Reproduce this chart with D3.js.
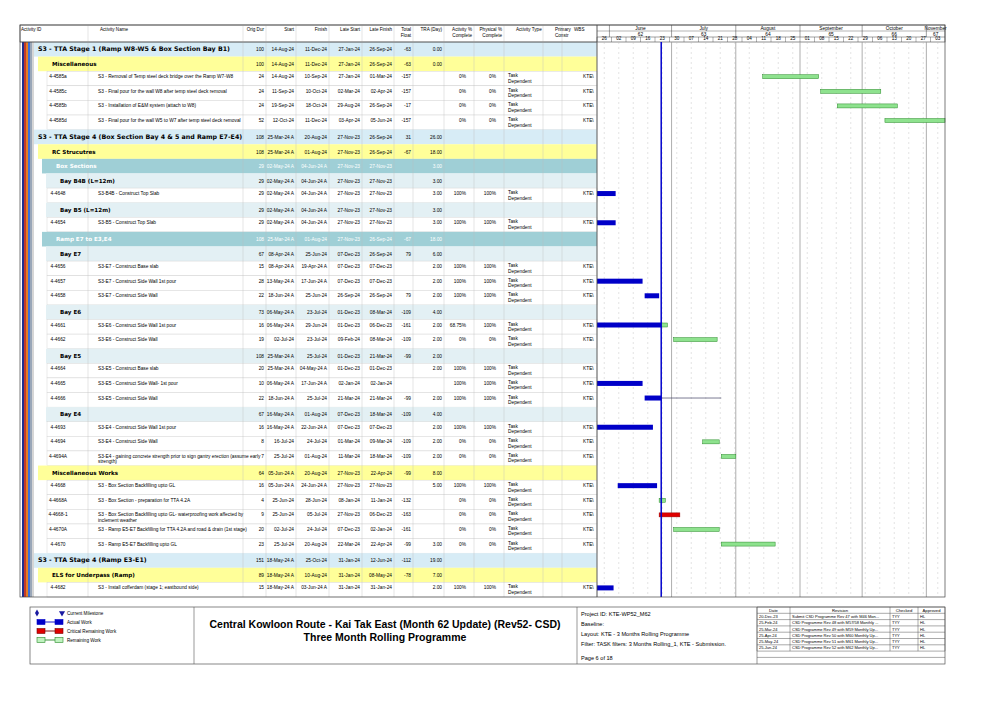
<!DOCTYPE html>
<html><head><meta charset="utf-8">
<script src="https://cdn.jsdelivr.net/npm/d3@7"></script>
<style>body{margin:0;background:#fff}svg{font-family:"Liberation Sans",Arial,sans-serif}</style>
</head><body><svg id="c" width="1001" height="708"></svg>
<script>
// ---------- DATA ----------
const ids=["","","4-4585a","4-4585c","4-4585b","4-4585d","","","","","4-4648","","4-4654","","","4-4656","4-4657","4-4658","","4-4661","4-4662","","4-4664","4-4665","4-4666","","4-4693","4-4694","4-4694A","","4-4668","4-4668A","4-4668-1","4-4670A","4-4670","","","4-4682"];
const names=["S3 - TTA Stage 1 (Ramp W8-W5 & Box Section Bay B1)","Miscellaneous","S3 - Removal of Temp steel deck bridge over the Ramp W7-W8","S3 - Final pour for the wall  W8 after temp steel deck removal","S3 - Installation of E&M system (attach to W8)","S3 - Final pour for the wall W5 to W7 after temp steel deck removal","S3 - TTA Stage 4 (Box Section Bay 4 & 5 and Ramp E7-E4)","RC Strucutres","Box Sections","Bay B4B (L=12m)","S3-B4B - Construct Top Slab","Bay B5 (L=12m)","S3-B5 - Construct Top Slab","Ramp E7 to E3,E4","Bay E7","S3-E7 - Construct Base slab","S3-E7 - Construct Side Wall 1st pour","S3-E7 - Construct Side Wall","Bay E6","S3-E6 - Construct Side Wall 1st pour","S3-E6 - Construct Side Wall","Bay E5","S3-E5 - Construct Base slab","S3-E5 - Construct Side Wall- 1st pour","S3-E5 - Construct Side Wall","Bay E4","S3-E4 - Construct Side Wall 1st pour","S3-E4 - Construct Side Wall","S3-E4 - gaining concrete strength prior to sign gantry erection (assume early|strength)","Miscellaneous Works","S3 - Box Section Backfilling upto GL","S3 - Box Section - preparation for TTA 4.2A","S3 - Box Section Backfilling upto GL- waterproofing work affected by|inclement weather","S3 - Ramp E5-E7  Backfilling for TTA 4.2A and road & drain (1st stage)","S3 - Ramp E5-E7 Backfilling upto GL","S3 - TTA Stage 4 (Ramp E3-E1)","ELS for Underpass (Ramp)","S3 - Install cofferdam (stage 1; eastbound side)"];
// level: 1 = stage, 2 = yellow group, 3 = teal group, 4 = bay, 0 = task
const levels=[1,2,0,0,0,0,1,2,3,4,0,4,0,3,4,0,0,0,4,0,0,4,0,0,0,4,0,0,0,2,0,0,0,0,0,1,2,0];
const origDur=[100,100,24,24,24,52,108,108,29,29,29,29,29,108,67,15,28,22,73,16,19,108,20,10,22,67,16,8,7,64,16,4,9,20,23,151,89,15];
const starts=["14-Aug-24","14-Aug-24","14-Aug-24","11-Sep-24","19-Sep-24","12-Oct-24","25-Mar-24 A","25-Mar-24 A","02-May-24 A","02-May-24 A","02-May-24 A","02-May-24 A","02-May-24 A","25-Mar-24 A","08-Apr-24 A","08-Apr-24 A","13-May-24 A","18-Jun-24 A","06-May-24 A","06-May-24 A","02-Jul-24","25-Mar-24 A","25-Mar-24 A","06-May-24 A","18-Jun-24 A","16-May-24 A","16-May-24 A","16-Jul-24","25-Jul-24","05-Jun-24 A","05-Jun-24 A","25-Jun-24","25-Jun-24","02-Jul-24","25-Jul-24","18-May-24 A","18-May-24 A","18-May-24 A"];
const finishes=["11-Dec-24","11-Dec-24","10-Sep-24","10-Oct-24","18-Oct-24","11-Dec-24","20-Aug-24","01-Aug-24","04-Jun-24 A","04-Jun-24 A","04-Jun-24 A","04-Jun-24 A","04-Jun-24 A","01-Aug-24","25-Jun-24","19-Apr-24 A","17-Jun-24 A","25-Jun-24","23-Jul-24","29-Jun-24","23-Jul-24","25-Jul-24","04-May-24 A","17-Jun-24 A","25-Jul-24","01-Aug-24","22-Jun-24 A","24-Jul-24","01-Aug-24","20-Aug-24","24-Jun-24 A","28-Jun-24","05-Jul-24","24-Jul-24","20-Aug-24","25-Oct-24","10-Aug-24","03-Jun-24 A"];
const lateStarts=["27-Jan-24","27-Jan-24","27-Jan-24","02-Mar-24","29-Aug-24","03-Apr-24","27-Nov-23","27-Nov-23","27-Nov-23","27-Nov-23","27-Nov-23","27-Nov-23","27-Nov-23","27-Nov-23","07-Dec-23","07-Dec-23","07-Dec-23","26-Sep-24","01-Dec-23","01-Dec-23","09-Feb-24","01-Dec-23","01-Dec-23","02-Jan-24","21-Mar-24","07-Dec-23","07-Dec-23","01-Mar-24","11-Mar-24","27-Nov-23","27-Nov-23","08-Jan-24","27-Nov-23","07-Dec-23","22-Mar-24","31-Jan-24","31-Jan-24","31-Jan-24"];
const lateFinishes=["26-Sep-24","26-Sep-24","01-Mar-24","02-Apr-24","26-Sep-24","05-Jun-24","26-Sep-24","26-Sep-24","27-Nov-23","27-Nov-23","27-Nov-23","27-Nov-23","27-Nov-23","26-Sep-24","26-Sep-24","07-Dec-23","07-Dec-23","26-Sep-24","08-Mar-24","06-Dec-23","08-Mar-24","21-Mar-24","01-Dec-23","02-Jan-24","21-Mar-24","18-Mar-24","07-Dec-23","09-Mar-24","18-Mar-24","22-Apr-24","27-Nov-23","11-Jan-24","06-Dec-23","02-Jan-24","22-Apr-24","12-Jun-24","08-May-24","31-Jan-24"];
const totalFloat=["-63","-63","-157","-157","-17","-157","31","-67","","","","","","-67","79","","","79","-109","-161","-109","-99","","","-99","-109","","-109","-109","-99","","-132","-163","-161","-99","-112","-78",""];
const tra=["0.00","0.00","","","","","26.00","18.00","3.00","3.00","3.00","3.00","3.00","18.00","6.00","2.00","2.00","2.00","4.00","2.00","2.00","2.00","2.00","","2.00","4.00","2.00","2.00","2.00","8.00","5.00","","","","3.00","19.00","7.00","2.00"];
const actPct=["","","0%","0%","0%","0%","","","","","100%","","100%","","","100%","100%","100%","","68.75%","0%","","100%","100%","100%","","100%","0%","0%","","100%","0%","0%","0%","0%","","","100%"];
const physPct=["","","0%","0%","0%","0%","","","","","100%","","100%","","","100%","100%","100%","","100%","0%","","100%","100%","100%","","100%","0%","0%","","100%","0%","0%","0%","0%","","","100%"];
const critical=["4-4668-1"];
const dataDate="26-Jun-24";
const monthLabels=["June","July","August","September","October","November"];
const monthNums=["62","63","64","65","66","67"];
const revDates=["20-Dec-23","25-Feb-24","25-Mar-24","25-Apr-24","25-May-24","25-Jun-24"];
const revTexts=["Submit CSD Programme Rev 47 with M46 Mon...","CSD Programme Rev 48 with M57/58 Monthly ...","CSD Programme Rev 49 with M59 Monthly Up...","CSD Programme Rev 50 with M60 Monthly Up...","CSD Programme Rev 51 with M61 Monthly Up...","CSD Programme Rev 52 with M62 Monthly Up..."];
const legendItems=["Current Milestone","Actual Work","Critical Remaining Work","Remaining Work"];

// ---------- DRAW ----------
const svg=d3.select("#c");
const parse=s=>d3.timeParse("%d-%b-%y")(s.replace(" A",""));
const L=20,R=945,T0=25,HB=42,TB=597,G0=597;
const x=d3.scaleTime().domain([new Date(2024,4,26),new Date(2024,10,10)]).range([G0,R]);
const y=d3.scaleBand().domain(d3.range(ids.length)).range([HB,TB]);
const rh=y.bandwidth();
const cols=[[20,88,"Activity ID","start"],[88,243,"Activity Name","start"],[243,266,"Orig Dur","end"],[266,296,"Start","end"],[296,329,"Finish","end"],[329,362,"Late Start","end"],[362,394,"Late Finish","end"],[394,413,"Total Float","end"],[413,444,"TRA (Day)","end"],[444,474,"Activity % Complete","end"],[474,504,"Physical % Complete","end"],[504,543,"Activity Type","start"],[543,562,"Primary Constr","start"],[562,597,"WBS","start"]];
const fills={1:"#d7ecf6",2:"#ffff99",3:"#9fcfd6",4:"#e3f0f4",0:"#ffffff"};
const g=svg.append("g");
ids.forEach((id,i)=>{
  const lv=levels[i],yy=y(i);
  const ind=lv==1?14:lv==2?18:lv==3?22:lv==4?26:27;
  g.append("rect").attr("x",L+ind).attr("y",yy).attr("width",G0-L-ind).attr("height",rh).attr("fill",fills[lv]).attr("stroke",lv?"none":"#ccc").attr("stroke-width",0.4);
});
["#1f2f8f","#c0392b","#e67e22","#3a6fd8","#9aa7b8","#d6d6d6"].forEach((c,k)=>{
  g.append("rect").attr("x",L+2+k*2).attr("y",HB).attr("width",2).attr("height",TB-HB).attr("fill",c);
});
g.append("rect").attr("x",L).attr("y",T0).attr("width",R-L).attr("height",HB-T0).attr("fill","#fff").attr("stroke","#444").attr("stroke-width",0.6);
cols.forEach(([a,b,t,anc])=>{
  g.append("line").attr("x1",b).attr("x2",b).attr("y1",T0).attr("y2",TB).attr("stroke","#bbb").attr("stroke-width",0.4);
  const parts=t.split(" ");const two=(t.includes("%")||t=="Total Float"||t=="Primary Constr");
  const lines=two?[parts.slice(0,parts.length-1).join(" "),parts[parts.length-1]]:[t];
  lines.forEach((ln,k)=>g.append("text").attr("x",anc=="end"?b-2:(t=="Activity ID"?a+1:a+12)).attr("y",T0+6+k*6).attr("font-size",4.6).attr("text-anchor",anc=="end"?"end":"start").text(ln));
});
ids.forEach((id,i)=>{
  const lv=levels[i],yy=y(i);
  const col=lv==3?"#fff":"#000";
  if(lv==0){
    g.append("text").attr("x",58).attr("y",yy+7).attr("font-size",4.8).attr("text-anchor","middle").text(id);
    names[i].split("|").forEach((ln,k)=>g.append("text").attr("x",98).attr("y",yy+7+k*5.5).attr("font-size",4.8).text(ln));
    g.append("text").attr("x",508).attr("y",yy+6).attr("font-size",4.8).text("Task");
    g.append("text").attr("x",508).attr("y",yy+11.5).attr("font-size",4.8).text("Dependent");
    g.append("text").attr("x",583).attr("y",yy+7).attr("font-size",4.8).text("KTE\\");
  } else {
    const nx=lv==1?38:lv==2?52:lv==3?56:60;
    g.append("text").attr("x",nx).attr("y",yy+rh/2+2).attr("font-size",lv==1?6.3:5.6).attr("font-weight","bold").attr("font-family","DejaVu Sans").attr("fill",col).text(names[i]);
  }
  [[2,origDur],[3,starts],[4,finishes],[5,lateStarts],[6,lateFinishes],[7,totalFloat],[8,tra],[9,actPct],[10,physPct]].forEach(([c,arr])=>{
    const v=String(arr[i]);if(!v)return;
    g.append("text").attr("x",cols[c][1]-(c>=9?8:2)).attr("y",yy+(lv?rh/2+2:7)).attr("font-size",4.8).attr("text-anchor","end").attr("fill",col).text(v);
  });
});
const months=d3.timeMonth.range(new Date(2024,5,1),new Date(2024,11,1));
months.forEach((m,k)=>{
  const a=Math.max(G0,x(m)),b=Math.min(R,x(d3.timeMonth.offset(m,1)));
  g.append("line").attr("x1",a).attr("x2",a).attr("y1",T0).attr("y2",T0+12).attr("stroke","#444").attr("stroke-width",0.5);
  g.append("text").attr("x",(a+b)/2).attr("y",T0+5).attr("font-size",4.8).attr("text-anchor","middle").text(monthLabels[k]);
  g.append("text").attr("x",(a+b)/2).attr("y",T0+11).attr("font-size",4.8).attr("text-anchor","middle").text(monthNums[k]);
  if(k>0&&x(m)<R) g.append("line").attr("x1",x(m)).attr("x2",x(m)).attr("y1",HB).attr("y2",TB).attr("stroke","#999").attr("stroke-width",0.8);
});
g.append("line").attr("x1",G0).attr("x2",R).attr("y1",T0+6).attr("y2",T0+6).attr("stroke","#444").attr("stroke-width",0.4);
g.append("line").attr("x1",G0).attr("x2",R).attr("y1",T0+12).attr("y2",T0+12).attr("stroke","#444").attr("stroke-width",0.5);
const weeks=d3.timeWeek.range(new Date(2024,4,26),new Date(2024,10,10));
weeks.forEach(w=>{
  const a=x(w),b=x(d3.timeWeek.offset(w,1));
  g.append("line").attr("x1",a).attr("x2",a).attr("y1",T0+12).attr("y2",HB).attr("stroke","#444").attr("stroke-width",0.4);
  g.append("text").attr("x",(a+b)/2).attr("y",HB-2).attr("font-size",4.6).attr("text-anchor","middle").text(d3.timeFormat("%d")(w));
  g.append("line").attr("x1",(a+b)/2).attr("x2",(a+b)/2).attr("y1",HB).attr("y2",TB).attr("stroke","#bbb").attr("stroke-width",0.4).attr("stroke-dasharray","2,3");
});
const dd=parse(dataDate);
ids.forEach((id,i)=>{
  if(levels[i]!=0)return;
  const s=parse(starts[i]),f=parse(finishes[i]),yy=y(i)+3,h=5;
  const sx=Math.max(G0,x(s)),fx=Math.min(R,x(f));
  const actual=starts[i].includes(" A");
  if(actual){
    const end=finishes[i].includes(" A")?fx:Math.min(fx,x(dd));
    g.append("rect").attr("x",sx).attr("y",yy).attr("width",Math.max(0,end-sx)).attr("height",h).attr("fill","#0000c8");
    if(!finishes[i].includes(" A")&&fx>x(dd)){
      if(actPct[i]=="100%") g.append("line").attr("x1",x(dd)).attr("x2",fx).attr("y1",yy+h/2).attr("y2",yy+h/2).attr("stroke","#446").attr("stroke-width",0.7);
      else g.append("rect").attr("x",x(dd)).attr("y",yy+0.5).attr("width",fx-x(dd)).attr("height",h-1).attr("fill","#8ee28e").attr("stroke","#2a8a2a").attr("stroke-width",0.5);
    }
  } else if(sx<R){
    const crit=critical.includes(id);
    g.append("rect").attr("x",sx).attr("y",yy+0.5).attr("width",fx-sx).attr("height",h-1).attr("fill",crit?"#e00000":"#8ee28e").attr("stroke",crit?"#900":"#2a8a2a").attr("stroke-width",0.5);
  }
});
g.append("line").attr("x1",x(dd)).attr("x2",x(dd)).attr("y1",HB).attr("y2",TB).attr("stroke","#0000cc").attr("stroke-width",1.5);
g.append("rect").attr("x",L).attr("y",T0).attr("width",R-L).attr("height",TB-T0).attr("fill","none").attr("stroke","#444").attr("stroke-width",0.7);
g.append("line").attr("x1",G0).attr("x2",G0).attr("y1",T0).attr("y2",TB).attr("stroke","#444").attr("stroke-width",0.8);
g.append("line").attr("x1",L).attr("x2",G0).attr("y1",HB).attr("y2",HB).attr("stroke","#444").attr("stroke-width",0.5);

// footer
const FY=607,FB=664;
g.append("rect").attr("x",30).attr("y",FY).attr("width",R-30).attr("height",FB-FY).attr("fill","none").attr("stroke","#555").attr("stroke-width",0.7);
[194,577,757].forEach(xx=>g.append("line").attr("x1",xx).attr("x2",xx).attr("y1",FY).attr("y2",FB).attr("stroke","#555").attr("stroke-width",0.6));
legendItems.forEach((t,k)=>{
  const yy=FY+6+k*9;
  if(k==0){
    g.append("path").attr("d",d3.symbol(d3.symbolDiamond,14)()).attr("transform",`translate(37,${yy})`).attr("fill","#1a1aa0");
    g.append("path").attr("d",d3.symbol(d3.symbolTriangle,16)()).attr("transform",`translate(62,${yy}) rotate(180)`).attr("fill","#1a1aa0");
  } else {
    const c=k==1?["#0000c8","#0000c8"]:k==2?["#e00000","#700"]:["#bff2bf","#2a8a2a"];
    g.append("line").attr("x1",40).attr("x2",60).attr("y1",yy).attr("y2",yy).attr("stroke",c[1]).attr("stroke-width",0.9);
    g.append("rect").attr("x",37).attr("y",yy-2.5).attr("width",8).attr("height",5).attr("fill",c[0]).attr("stroke",c[1]).attr("stroke-width",0.6);
    g.append("rect").attr("x",55).attr("y",yy-2.5).attr("width",8).attr("height",5).attr("fill",c[0]).attr("stroke",c[1]).attr("stroke-width",0.6);
  }
  g.append("text").attr("x",67).attr("y",yy+1.5).attr("font-size",4.6).text(t);
});
g.append("text").attr("x",385).attr("y",628).attr("font-size",10.5).attr("font-weight","bold").attr("text-anchor","middle").attr("font-family","'Liberation Sans Narrow','Liberation Sans',Arial").text("Central Kowloon Route - Kai Tak East (Month 62 Update) (Rev52- CSD)");
g.append("text").attr("x",385).attr("y",641).attr("font-size",10.5).attr("font-weight","bold").attr("text-anchor","middle").attr("font-family","'Liberation Sans Narrow','Liberation Sans',Arial").text("Three Month Rolling Programme");
["Project ID: KTE-WP52_M62","Baseline:","Layout: KTE - 3 Months Rolling Programme","Filter: TASK filters: 3 Months Rolling_1, KTE - Submission."].forEach((t,k)=>
  g.append("text").attr("x",581).attr("y",616+k*10).attr("font-size",5.6).attr("font-family","'Liberation Sans Narrow','Liberation Sans',Arial").text(t));
g.append("text").attr("x",581).attr("y",660).attr("font-size",5.6).attr("font-family","'Liberation Sans Narrow','Liberation Sans',Arial").text("Page 6 of 18");
const rc=[757,790,890,918,945],rhh=6.3;
for(let k=0;k<=8;k++) g.append("line").attr("x1",757).attr("x2",945).attr("y1",FY+k*rhh).attr("y2",FY+k*rhh).attr("stroke","#555").attr("stroke-width",0.5);
rc.forEach(xx=>g.append("line").attr("x1",xx).attr("x2",xx).attr("y1",FY).attr("y2",FY+7*rhh).attr("stroke","#555").attr("stroke-width",0.5));
["Date","Revision","Checked","Approved"].forEach((t,k)=>g.append("text").attr("x",(rc[k]+rc[k+1])/2).attr("y",FY+4.6).attr("font-size",4.2).attr("text-anchor","middle").text(t));
revDates.forEach((d,k)=>{
  const yy=FY+(k+1)*rhh+4.6;
  g.append("text").attr("x",759).attr("y",yy).attr("font-size",4).text(d);
  g.append("text").attr("x",792).attr("y",yy).attr("font-size",4).text(revTexts[k]);
  g.append("text").attr("x",892).attr("y",yy).attr("font-size",4).text("TYY");
  g.append("text").attr("x",920).attr("y",yy).attr("font-size",4).text("HL");
});
</script></body></html>
